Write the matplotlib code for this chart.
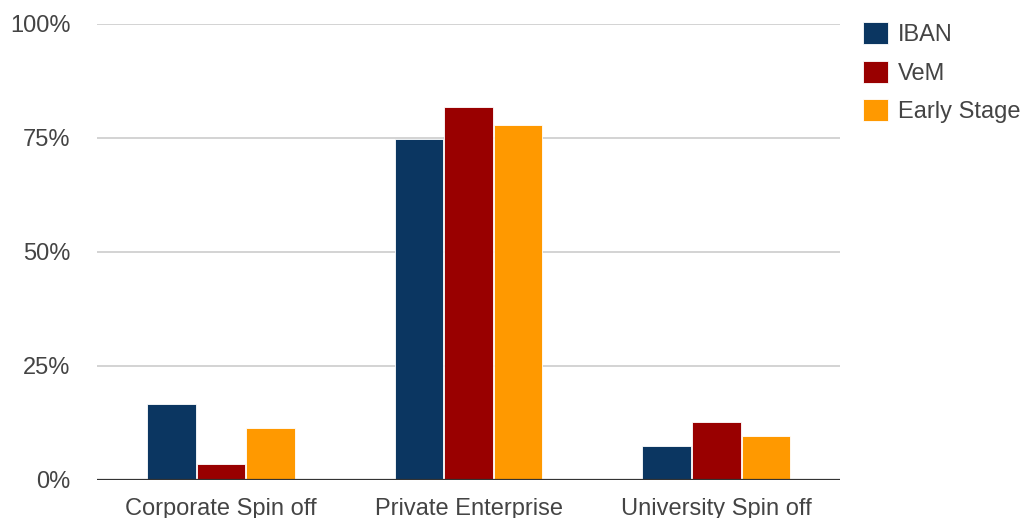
import matplotlib
matplotlib.use("Agg")
import matplotlib.pyplot as plt
import numpy as np
from matplotlib.patches import Patch

plt.rcParams['font.family'] = ['Liberation Sans', 'DejaVu Sans']

categories = ["Corporate Spin off", "Private Enterprise", "University Spin off"]
series_names = ["IBAN", "VeM", "Early Stage"]
iban = [16.7, 74.8, 7.5]
vem = [3.6, 81.9, 12.8]
early_stage = [11.5, 77.9, 9.7]
y_ticks = [0, 25, 50, 75, 100]
y_tick_labels = ["0%", "25%", "50%", "75%", "100%"]

colors = ["#0b3661", "#990000", "#ff9900"]
text_color = "#444444"

fig = plt.figure(figsize=(10.22, 5.18), dpi=100)
ax = fig.add_axes([0.095, 0.0734, 0.727, 0.8803])

x = np.arange(len(categories))
width = 0.196
offsets = [-0.2, 0.0, 0.2]
for vals, off, col in zip([iban, vem, early_stage], offsets, colors):
    ax.bar(x + off, vals, width=width, color=col, edgecolor="white",
           linewidth=0.6, zorder=3)

ax.set_xlim(-0.5, len(categories) - 0.5)
ax.set_ylim(0, 100)
ax.set_yticks(y_ticks)
ax.set_yticklabels(y_tick_labels)
ax.set_xticks(x)
ax.set_xticklabels(categories)
ax.tick_params(axis='both', length=0, labelsize=17, colors=text_color)
ax.tick_params(axis='y', pad=19)
ax.tick_params(axis='x', pad=13)

for t in y_ticks[1:]:
    ax.axhline(t, color="#cccccc", linewidth=1.2, zorder=1)
ax.axhline(0, color="#333333", linewidth=1.6, zorder=4)

for side in ["top", "right", "left", "bottom"]:
    ax.spines[side].set_visible(False)

handles = [Patch(facecolor=c, edgecolor="white", linewidth=0.6) for c in colors]
fig.legend(handles, series_names, loc="upper left",
           bbox_to_anchor=(0.844, 0.957), frameon=False,
           fontsize=17, handlelength=1.06, handleheight=1.06,
           handletextpad=0.45, labelspacing=0.6, labelcolor=text_color,
           borderaxespad=0, borderpad=0)

fig.savefig("out.png", dpi=100, facecolor="white")
